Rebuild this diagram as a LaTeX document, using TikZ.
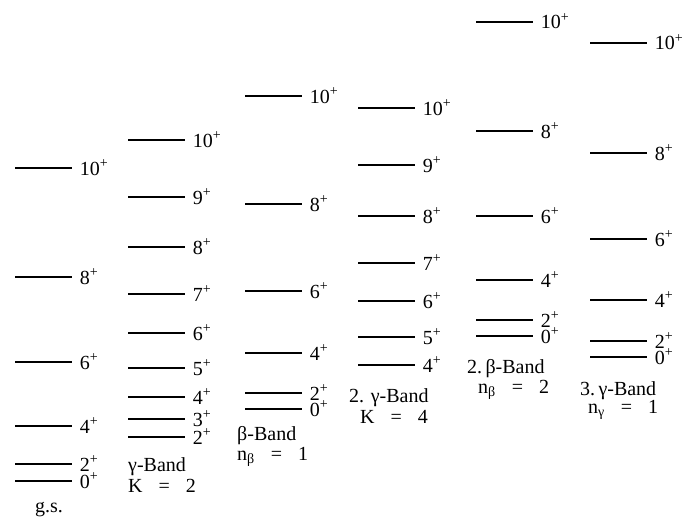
\documentclass[tikz,border=0pt]{standalone}
\usepackage{fontspec}
\setmainfont{Liberation Serif}
\usepackage{xcolor}
\usepackage{tikz}
\usetikzlibrary{positioning}

\tikzset{
  lvl/.style={line width=1.5pt, black},
  spin/.style={anchor=base west, inner sep=0pt, xshift=7pt, yshift=-7pt, font=\fontsize{20}{23}\selectfont},
  bandname/.style={anchor=base west, inner sep=0pt, font=\fontsize{20}{23}\selectfont}
}
\newcommand{\jp}[1]{#1\textsuperscript{+}}

\begin{document}
\begin{tikzpicture}[x=1pt, y=-1pt]
  \useasboundingbox (0,0) rectangle (682,519);

  % --- Ground state band ---
  \draw[lvl] (15,168) -- (72,168) node[spin] (gsA) {\jp{10}};
  \draw[lvl] (15,277) -- (72,277) node[spin] (gsB) {\jp{8}};
  \draw[lvl] (15,362) -- (72,362) node[spin] (gsC) {\jp{6}};
  \draw[lvl] (15,426) -- (72,426) node[spin] (gsD) {\jp{4}};
  \draw[lvl] (15,464) -- (72,464) node[spin] (gsE) {\jp{2}};
  \draw[lvl] (15,481) -- (72,481) node[spin] (gsF) {\jp{0}};
  \node[bandname] (gsname) at (35,512) {g.s.};

  % --- Gamma band, K = 2 ---
  \draw[lvl] (128,140) -- (185,140) node[spin] (gaA) {\jp{10}};
  \draw[lvl] (128,197) -- (185,197) node[spin] (gaB) {\jp{9}};
  \draw[lvl] (128,247) -- (185,247) node[spin] (gaC) {\jp{8}};
  \draw[lvl] (128,294) -- (185,294) node[spin] (gaD) {\jp{7}};
  \draw[lvl] (128,333) -- (185,333) node[spin] (gaE) {\jp{6}};
  \draw[lvl] (128,368) -- (185,368) node[spin] (gaF) {\jp{5}};
  \draw[lvl] (128,397) -- (185,397) node[spin] (gaG) {\jp{4}};
  \draw[lvl] (128,419) -- (185,419) node[spin] (gaH) {\jp{3}};
  \draw[lvl] (128,437) -- (185,437) node[spin] (gaI) {\jp{2}};
  \node[bandname] (ganame) at (128,471) {γ-Band};
  \node[bandname] (gaK) at (128,492) {K\hspace{0.8em}=\hspace{0.8em}2};

  % --- Beta band ---
  \draw[lvl] (245,96) -- (302,96) node[spin] (beA) {\jp{10}};
  \draw[lvl] (245,204) -- (302,204) node[spin] (beB) {\jp{8}};
  \draw[lvl] (245,291) -- (302,291) node[spin] (beC) {\jp{6}};
  \draw[lvl] (245,353) -- (302,353) node[spin] (beD) {\jp{4}};
  \draw[lvl] (245,393) -- (302,393) node[spin] (beE) {\jp{2}};
  \draw[lvl] (245,409) -- (302,409) node[spin] (beF) {\jp{0}};
  \node[bandname] (bename) at (237,440) {β-Band};
  \node[bandname] (ben) at (237,460) {n\textsubscript{β}\hspace{0.8em}=\hspace{0.8em}1};

  % --- Second gamma band, K = 4 ---
  \draw[lvl] (358,108) -- (415,108) node[spin] (gbA) {\jp{10}};
  \draw[lvl] (358,165) -- (415,165) node[spin] (gbB) {\jp{9}};
  \draw[lvl] (358,216) -- (415,216) node[spin] (gbC) {\jp{8}};
  \draw[lvl] (358,263) -- (415,263) node[spin] (gbD) {\jp{7}};
  \draw[lvl] (358,301) -- (415,301) node[spin] (gbE) {\jp{6}};
  \draw[lvl] (358,337) -- (415,337) node[spin] (gbF) {\jp{5}};
  \draw[lvl] (358,365) -- (415,365) node[spin] (gbG) {\jp{4}};
  \node[bandname] (gbname) at (349,402) {2. γ-Band};
  \node[bandname] (gbK) at (360,423) {K\hspace{0.8em}=\hspace{0.8em}4};

  % --- Second beta band ---
  \draw[lvl] (476,22) -- (533,22) node[spin] (bbA) {\jp{10}};
  \draw[lvl] (476,131) -- (533,131) node[spin] (bbB) {\jp{8}};
  \draw[lvl] (476,216) -- (533,216) node[spin] (bbC) {\jp{6}};
  \draw[lvl] (476,280) -- (533,280) node[spin] (bbD) {\jp{4}};
  \draw[lvl] (476,320) -- (533,320) node[spin] (bbE) {\jp{2}};
  \draw[lvl] (476,336) -- (533,336) node[spin] (bbF) {\jp{0}};
  \node[bandname] (bbname) at (467,373) {2.\,β-Band};
  \node[bandname] (bbn) at (478,393) {n\textsubscript{β}\hspace{0.8em}=\hspace{0.8em}2};

  % --- Third gamma band ---
  \draw[lvl] (590,43) -- (647,43) node[spin] (gcA) {\jp{10}};
  \draw[lvl] (590,153) -- (647,153) node[spin] (gcB) {\jp{8}};
  \draw[lvl] (590,239) -- (647,239) node[spin] (gcC) {\jp{6}};
  \draw[lvl] (590,300) -- (647,300) node[spin] (gcD) {\jp{4}};
  \draw[lvl] (590,341) -- (647,341) node[spin] (gcE) {\jp{2}};
  \draw[lvl] (590,357) -- (647,357) node[spin] (gcF) {\jp{0}};
  \node[bandname] (gcname) at (580,395) {3.\,γ-Band};
  \node[bandname] (gcn) at (588,413) {n\textsubscript{γ}\hspace{0.8em}=\hspace{0.8em}1};
\end{tikzpicture}
\end{document}
